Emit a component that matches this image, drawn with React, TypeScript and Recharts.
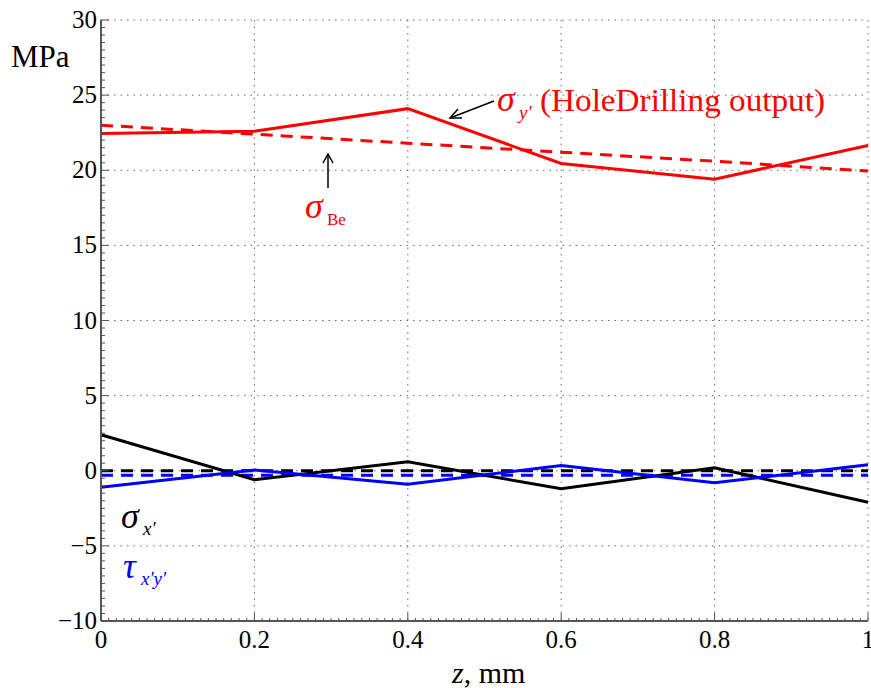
import React from "react";
import { CartesianGrid, Line, LineChart, XAxis, YAxis } from "recharts";

// sample positions along depth z (mm)
const zValues = [0, 0.2, 0.4, 0.6, 0.8, 1];

// stresses in MPa
const sigmaYOutput = [22.45, 22.6, 24.1, 20.45, 19.4, 21.65];
const sigmaBe = [23.0, 22.4, 21.8, 21.2, 20.6, 19.95];
const sigmaX = [2.4, -0.6, 0.6, -1.2, 0.2, -2.1];
const sigmaXMean = [0, 0, 0, 0, 0, 0];
const tauXY = [-1.1, 0.05, -0.9, 0.35, -0.8, 0.4];
const tauXYMean = [-0.3, -0.3, -0.3, -0.3, -0.3, -0.3];

const xMajorTicks = [0, 0.2, 0.4, 0.6, 0.8, 1];
const yMajorTicks = [-10, -5, 0, 5, 10, 15, 20, 25, 30];

const xMinorTicks: number[] = [];
for (let i = 0; i <= 100; i++) xMinorTicks.push(i / 100);
const yMinorTicks: number[] = [];
for (let i = 0; i <= 80; i++) yMinorTicks.push(-10 + i * 0.5);

const data = zValues.map((z, i) => ({
  z,
  sigmaY: sigmaYOutput[i],
  sigmaBe: sigmaBe[i],
  sigmaX: sigmaX[i],
  sigmaXMean: sigmaXMean[i],
  tau: tauXY[i],
  tauMean: tauXYMean[i],
}));

const FONT = "'Liberation Serif', 'DejaVu Serif', serif";
const AXIS = "#555";
const serif = { fontFamily: FONT };

const isMajor = (v: number, list: number[]) => list.some((t) => Math.abs(t - v) < 1e-6);
const fmt = (v: number) => (v < 0 ? "\u2212" + Math.abs(v) : String(v));

function LeftTick(props: any) {
  const { x, y, payload } = props;
  const major = isMajor(payload.value, yMajorTicks);
  return (
    <g>
      <line x1={x} y1={y} x2={x + (major ? 8 : 4)} y2={y} stroke={AXIS} strokeWidth={1} />
      {major && (
        <text x={x - 4} y={y + 8} textAnchor="end" style={serif} fontSize={25} fill="#000">
          {fmt(payload.value)}
        </text>
      )}
    </g>
  );
}

function RightTick(props: any) {
  const { x, y, payload } = props;
  const major = isMajor(payload.value, yMajorTicks);
  return <line x1={x} y1={y} x2={x - (major ? 8 : 4)} y2={y} stroke="#999" strokeWidth={1} />;
}

function BottomTick(props: any) {
  const { x, y, payload } = props;
  const major = isMajor(payload.value, xMajorTicks);
  return (
    <g>
      <line x1={x} y1={y} x2={x} y2={y - (major ? 8 : 3)} stroke={AXIS} strokeWidth={1} />
      {major && (
        <text x={x} y={y + 27} textAnchor="middle" style={serif} fontSize={25} fill="#000">
          {payload.value}
        </text>
      )}
    </g>
  );
}

export default function App() {
  return (
    <div style={{ position: "absolute", left: 0, top: 0, width: 871, height: 688, background: "#fff" }}>
      <LineChart width={871} height={688} data={data} margin={{ top: 20, right: 3, bottom: 0, left: 0 }}>
        <CartesianGrid
          stroke="#666"
          strokeDasharray="1.5 5"
          horizontalValues={yMajorTicks}
          verticalValues={xMajorTicks}
        />
        <XAxis
          dataKey="z"
          type="number"
          domain={[0, 1]}
          ticks={xMinorTicks}
          interval={0}
          height={67}
          tickSize={0}
          tickMargin={0}
          tickLine={false}
          tick={<BottomTick />}
          axisLine={{ stroke: AXIS, strokeWidth: 2 }}
        />
        <YAxis
          type="number"
          domain={[-10, 30]}
          ticks={yMinorTicks}
          interval={0}
          width={101}
          tickSize={0}
          tickMargin={0}
          tickLine={false}
          tick={<LeftTick />}
          axisLine={{ stroke: AXIS, strokeWidth: 2 }}
        />
        <YAxis
          yAxisId="r"
          orientation="right"
          type="number"
          domain={[-10, 30]}
          ticks={yMinorTicks}
          interval={0}
          width={0}
          tickSize={0}
          tickMargin={0}
          tickLine={false}
          tick={<RightTick />}
          axisLine={false}
        />
        <Line type="linear" dataKey="sigmaXMean" stroke="#000" strokeWidth={3} strokeDasharray="12 8" dot={false} isAnimationActive={false} />
        <Line type="linear" dataKey="tauMean" stroke="#0000ff" strokeWidth={3} strokeDasharray="12 8" dot={false} isAnimationActive={false} />
        <Line type="linear" dataKey="sigmaX" stroke="#000" strokeWidth={3} dot={false} isAnimationActive={false} />
        <Line type="linear" dataKey="tau" stroke="#0000ff" strokeWidth={3} dot={false} isAnimationActive={false} />
        <Line type="linear" dataKey="sigmaY" stroke="#ff0000" strokeWidth={3} dot={false} isAnimationActive={false} />
        <Line type="linear" dataKey="sigmaBe" stroke="#ff0000" strokeWidth={3} strokeDasharray="12 8" dot={false} isAnimationActive={false} />
      </LineChart>

      <svg
        width={871}
        height={688}
        style={{ position: "absolute", left: 0, top: 0, pointerEvents: "none", fontFamily: FONT }}
      >
        <text x={11} y={67} fontSize={31} fill="#000" style={serif}>MPa</text>

        {/* sigma_y' label and arrow */}
        <text x={497} y={111} fontSize={36} fontStyle="italic" fill="#ff0000" style={serif}>σ</text>
        <text x={519} y={119} fontSize={19} fontStyle="italic" fill="#ff0000" style={serif}>y′</text>
        <text x={540} y={111} fontSize={32} fill="#ff0000" style={serif} textLength={285} lengthAdjust="spacingAndGlyphs">
          (HoleDrilling output)
        </text>
        <g stroke="#000" strokeWidth={1.5} fill="none">
          <line x1={494} y1={101} x2={450} y2={118} />
          <polyline points="458,109 450,118 462,118" />
        </g>

        {/* sigma_Be label and arrow */}
        <g stroke="#000" strokeWidth={1.5} fill="none">
          <line x1={328} y1={188} x2={328} y2={154} />
          <polyline points="323,163 328,154 333,163" />
        </g>
        <text x={305} y={218} fontSize={36} fontStyle="italic" fill="#ff0000" style={serif}>σ</text>
        <text x={327} y={225} fontSize={17} fill="#ff0000" style={serif}>Be</text>

        {/* sigma_x' */}
        <text x={121} y={528} fontSize={36} fontStyle="italic" fill="#000" style={serif}>σ</text>
        <text x={143} y={535} fontSize={19} fontStyle="italic" fill="#000" style={serif}>x′</text>

        {/* tau_x'y' */}
        <text x={123} y={578} fontSize={36} fontStyle="italic" fill="#0000ff" style={serif}>τ</text>
        <text x={141} y={585} fontSize={19} fontStyle="italic" fill="#0000ff" style={serif}>x′y′</text>

        {/* x-axis title */}
        <text x={452} y={683} fontSize={30} fill="#000" style={serif}>
          <tspan fontStyle="italic">z</tspan>
          <tspan>, mm</tspan>
        </text>
      </svg>
    </div>
  );
}
